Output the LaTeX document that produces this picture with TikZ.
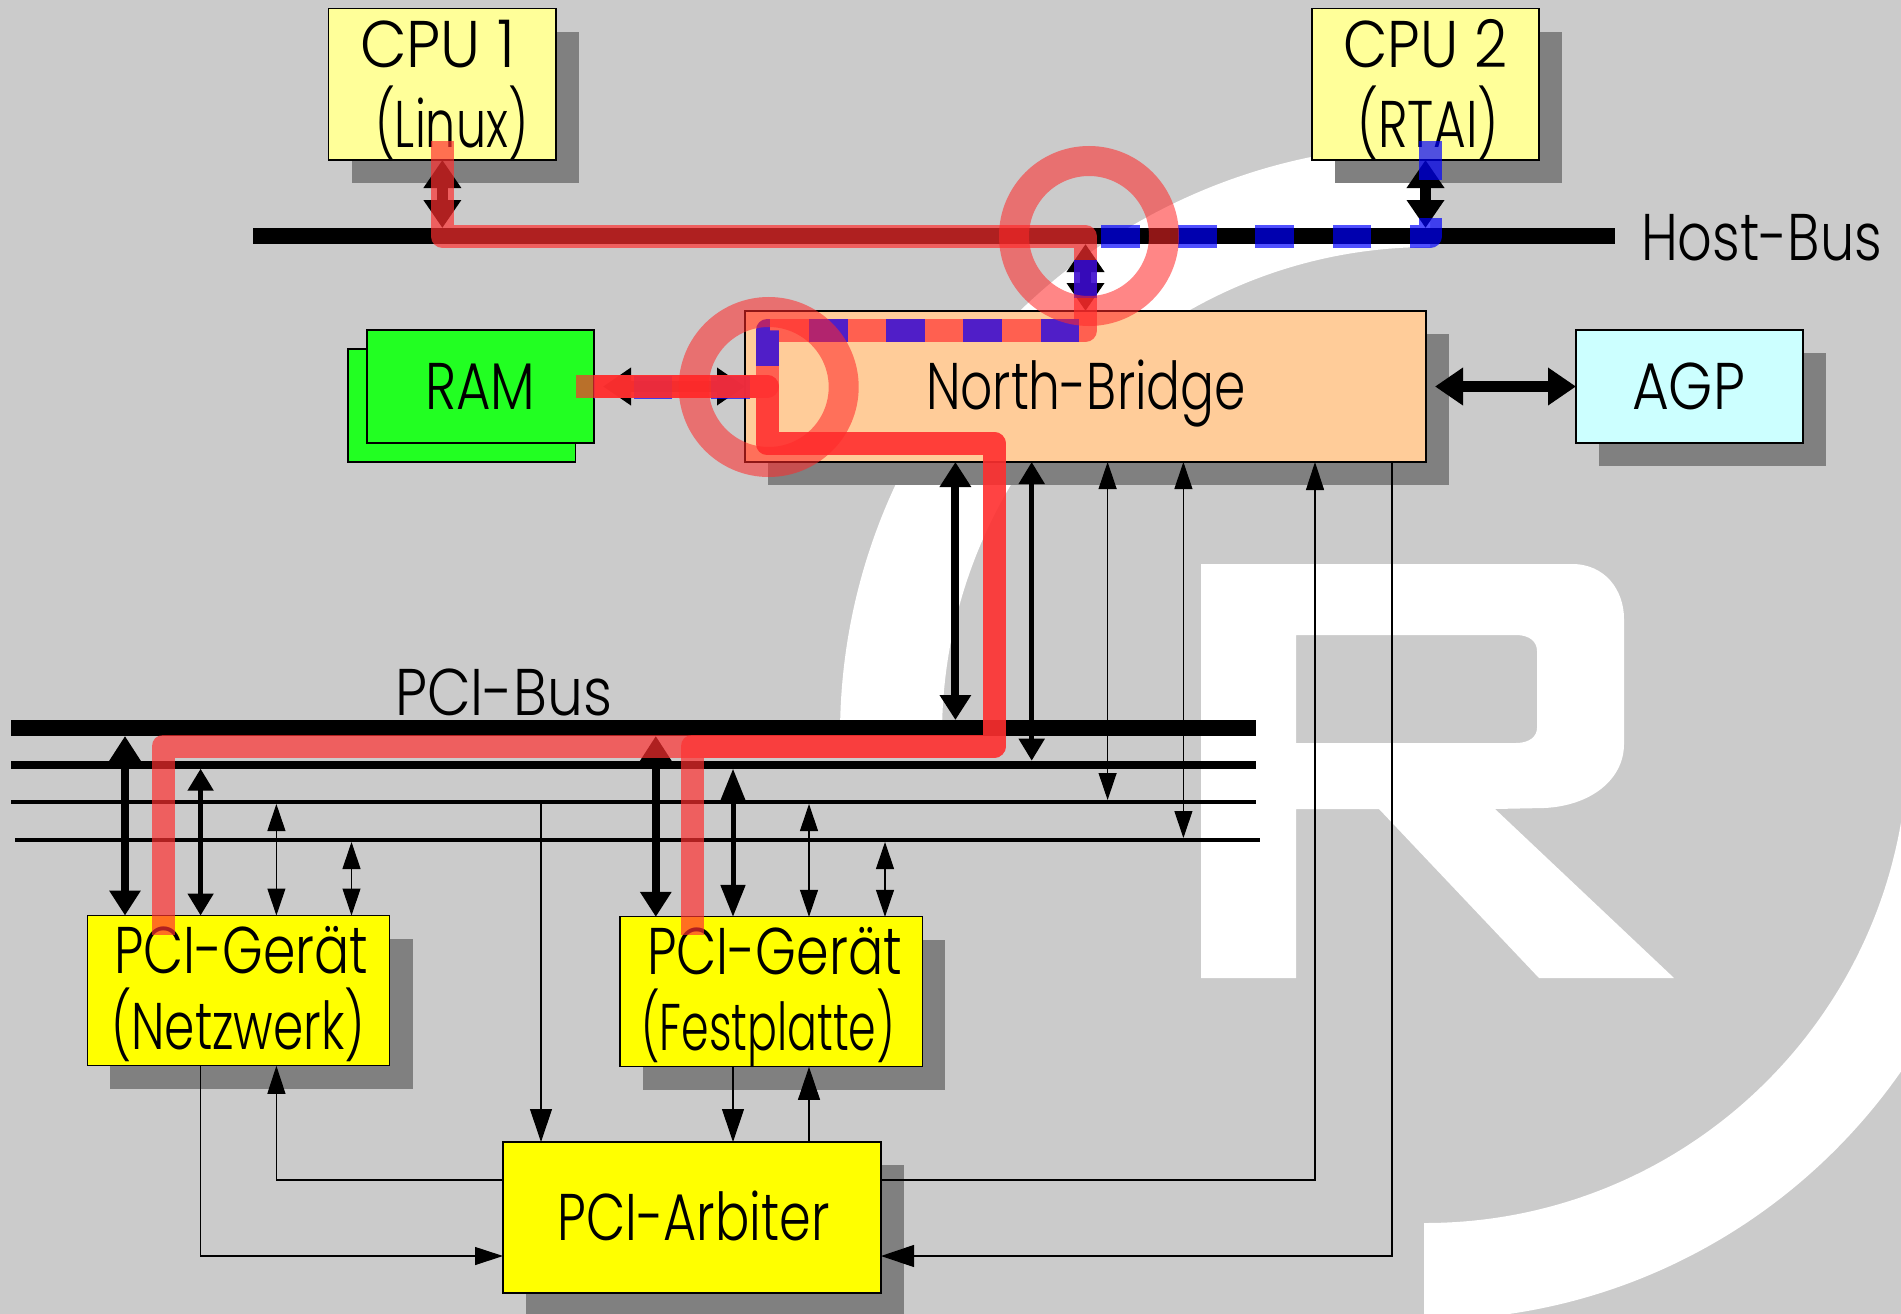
\documentclass[tikz,border=0pt]{standalone}
\usepackage{graphicx}
\usepackage{fontspec}
\setmainfont{Poppins Light}
\usetikzlibrary{arrows.meta,shadows}
\definecolor{bggray}{HTML}{CBCBCB}
\definecolor{shadegray}{HTML}{808080}
\definecolor{cpuyellow}{HTML}{FFFF99}
\definecolor{nborange}{HTML}{FFCC99}
\definecolor{agpcyan}{HTML}{CCFFFF}
\definecolor{ramgreen}{HTML}{22FF22}
\definecolor{pciyellow}{HTML}{FFFF00}
\definecolor{hotred}{RGB}{255,47,47}
\definecolor{ringred}{RGB}{255,41,41}
\newcommand{\fitw}[2]{\resizebox{#1pt}{\height}{#2}}
\tikzset{
  boxbase/.style={draw=black,line width=1.2pt,inner sep=0pt,outer sep=0pt},
  sbox/.style={boxbase,drop shadow={shadow xshift=23pt,shadow yshift=-23pt,fill=shadegray,opacity=1}},
  busline/.style={fill=black,inner sep=0pt,outer sep=0pt},
  lab/.style={anchor=base west,inner sep=0pt,outer sep=0pt,font=\fontsize{66}{66}\selectfont,text=black},
  arrxl/.style={line width=11pt,{Triangle[length=28pt,width=36pt]}-{Triangle[length=28pt,width=36pt]}},
  arrl/.style={line width=8pt,{Triangle[length=25pt,width=30pt]}-{Triangle[length=25pt,width=30pt]}},
  arrm/.style={line width=5pt,{Triangle[length=22pt,width=25pt]}-{Triangle[length=22pt,width=25pt]}},
  arrmb/.style={line width=5pt,{Triangle[length=32pt,width=24pt]}-{Triangle[length=32pt,width=24pt]}},
  arrs/.style={line width=1.1pt,{Triangle[length=27pt,width=18pt]}-{Triangle[length=27pt,width=18pt]}},
  arrone/.style={line width=1.1pt,-{Triangle[length=28pt,width=18pt]}},
  arrbig/.style={line width=1.1pt,-{Triangle[length=33pt,width=22pt]}},
  redway/.style={draw=hotred,draw opacity=.685,line width=23pt,line join=round,line cap=butt},
  blueway/.style={draw=blue,draw opacity=.685,line width=23pt,line join=round,line cap=butt,dash pattern=on 38.6pt off 38.6pt},
  ring/.style={draw=ringred,draw opacity=.56,line width=30pt},
}
\begin{document}
\begin{tikzpicture}[x=1pt,y=-1pt]
\useasboundingbox (0,0) rectangle (1901,1314);
\fill[bggray] (0,0) rectangle (1901,1314);
% logo: upper-left arc
\begin{scope}
  \clip (0,0) rectangle (1430,728);
  \fill[white,even odd rule] (1430,735) circle[radius=590] (1430,735) circle[radius=488];
\end{scope}
% logo: lower-right arc
\begin{scope}
  \clip (1424,700) rectangle (1901,1314);
  \fill[white,even odd rule] (1425,740) circle[radius=580] (1425,740) circle[radius=483];
\end{scope}
\fill[white,even odd rule]
  (1201,564) -- (1572,564) .. controls (1605,564) and (1624,590) .. (1624,619)
  -- (1624,744) .. controls (1624,780) and (1590,806) .. (1544,808) -- (1495,809)
  -- (1674,978) -- (1539,978) -- (1379,809) -- (1296,809) -- (1296,978) -- (1201,978) -- cycle
  (1296,635) -- (1516,635) .. controls (1530,635) and (1537,642) .. (1537,651)
  -- (1537,728) .. controls (1537,736) and (1530,743) .. (1516,743) -- (1296,743) -- cycle;
% boxes
\node[sbox,fill=cpuyellow,minimum width=227.3pt,minimum height=151.3pt] (cpu1) at (442.35,84.35) {};
\node[sbox,fill=cpuyellow,minimum width=227pt,minimum height=151.3pt] (cpu2) at (1425.5,84.35) {};
\node[sbox,fill=nborange,minimum width=681pt,minimum height=151pt] (nb) at (1085.5,386.5) {};
\node[boxbase,fill=ramgreen,minimum width=227.5pt,minimum height=113pt] (ramback) at (461.75,405.5) {};
\node[boxbase,fill=ramgreen,minimum width=227pt,minimum height=113pt] (ram) at (480.5,386.5) {};
\node[sbox,fill=agpcyan,minimum width=227pt,minimum height=113pt] (agp) at (1689.5,386.5) {};
\node[sbox,fill=pciyellow,minimum width=302.4pt,minimum height=150.3pt] (netz) at (238.5,990.65) {};
\node[sbox,fill=pciyellow,minimum width=302.4pt,minimum height=150pt] (fest) at (771.2,991.85) {};
\node[sbox,fill=pciyellow,minimum width=378pt,minimum height=151pt] (arb) at (692,1217.5) {};
% buses
\node[busline,minimum width=1361.6pt,minimum height=16pt] (host) at (934.2,236) {};
\node[busline,minimum width=1244.7pt,minimum height=16pt] (pa) at (633.35,728) {};
\node[busline,minimum width=1244.7pt,minimum height=8pt] (pb) at (633.35,764.7) {};
\node[busline,minimum width=1244.7pt,minimum height=4pt] (pc) at (633.35,802) {};
\node[busline,minimum width=1245pt,minimum height=4pt] (pd) at (637.5,840) {};
% connectors
\draw[arrxl] (cpu1.south) -- (cpu1.south |- host.north);
\draw[arrxl] (cpu2.south) -- (cpu2.south |- host.north);
\draw[arrxl] (nb.north) -- (nb.north |- host.south);
\coordinate (agptip) at (1435,386.5);
\coordinate (ramtip) at (603,386.5);
\draw[arrxl] (agp.west) -- (agptip);
\draw[arrxl] (nb.west) -- (ramtip);
\draw[arrl] (pa.south -| 125,0) -- (netz.north -| 125,0);
\draw[arrm] (pb.south -| 200.6,0) -- (netz.north -| 200.6,0);
\draw[arrs] (pc.south -| 276.4,0) -- (netz.north -| 276.4,0);
\draw[arrs] (pd.south -| 351.5,0) -- (netz.north -| 351.5,0);
\draw[arrl] (pa.south -| 655.8,0) -- (fest.north -| 655.8,0);
\draw[arrmb] (pb.south -| 733,0) -- (fest.north -| 733,0);
\draw[arrs] (pc.south -| 809,0) -- (fest.north -| 809,0);
\draw[arrs] (pd.south -| 885,0) -- (fest.north -| 885,0);
\draw[arrl] (nb.south -| 955.4,0) -- (pa.north -| 955.4,0);
\draw[arrm] (nb.south -| 1031.7,0) -- (pb.north -| 1031.7,0);
\draw[arrs] (nb.south -| 1107.6,0) -- (pc.north -| 1107.6,0);
\draw[arrs] (nb.south -| 1183.4,0) -- (pd.north -| 1183.4,0);
\draw[arrbig] (pc.south -| 541,0) -- (arb.north -| 541,0);
\draw[arrbig] (fest.south -| 733,0) -- (arb.north -| 733,0);
\draw[arrbig] (arb.north -| 809,0) -- (fest.south -| 809,0);
\draw[arrone] (netz.south -| 200.6,0) |- (arb.west |- 0,1256);
\draw[arrone] (arb.west |- 0,1180) -| (netz.south -| 276.4,0);
\draw[arrone] (arb.east |- 0,1180) -| (nb.south -| 1315,0);
\draw[arrbig] (nb.south -| 1392,0) |- (arb.east |- 0,1256);
% texts
\node[lab] (tcpua) at (360,67) {\fitw{155}{CPU 1}};
\node[lab] (tlinux) at (375,147) {\fitw{153}{(Linux)}};
\node[lab] (tcpub) at (1343,67) {\fitw{164}{CPU 2}};
\node[lab] (trtai) at (1357,147) {\fitw{142}{(RTAI)}};
\node[lab] (thost) at (1641,260) {\fitw{241}{Host-Bus}};
\node[lab] (tram) at (425,409) {\fitw{110}{RAM}};
\node[lab] (tnb) at (926,409) {\fitw{320}{North-Bridge}};
\node[lab] (tagp) at (1632,409) {\fitw{113}{AGP}};
\node[lab] (tpci) at (395,715) {\fitw{217}{PCI-Bus}};
\node[lab] (tga) at (114,973) {\fitw{254}{PCI-Gerät}};
\node[lab] (tnetz) at (111,1049) {\fitw{254}{(Netzwerk)}};
\node[lab] (tgb) at (647,974.5) {\fitw{255}{PCI-Gerät}};
\node[lab] (tfest) at (641,1050) {\fitw{254}{(Festplatte)}};
\node[lab] (tarb) at (557.6,1240) {\fitw{272}{PCI-Arbiter}};
% highlighted data paths
\coordinate (ra) at (442.5,141);
\coordinate (rb) at (163,935);
\coordinate (rc) at (575.5,386.5);
\coordinate (rd) at (692,935);
\coordinate (ba) at (1430,141);
\draw[redway] (ra) -- (442.5,236.5) -- (1085.5,236.5) -- (1085.5,330.5) -- (767,330.5) -- (767,386.5) -- (rc);
\draw[blueway] (ba) -- (1430,236.5) -- (1085.5,236.5) -- (1085.5,330.5) -- (767,330.5) -- (767,387) -- (ram.east |- 0,387);
\draw[redway] (ram.east) -- (767,386.5) -- (767,443.5) -- (994,443.5) -- (994,746) -- (163,746) -- (rb);
\draw[redway] (ram.east) -- (767,386.5) -- (767,443.5) -- (994,443.5) -- (994,746) -- (692,746) -- (rd);
\node[ring,circle,minimum size=150pt,inner sep=0pt] (ca) at (1089,236) {};
\node[ring,circle,minimum size=150pt,inner sep=0pt] (cb) at (768.7,387) {};
\end{tikzpicture}
\end{document}
